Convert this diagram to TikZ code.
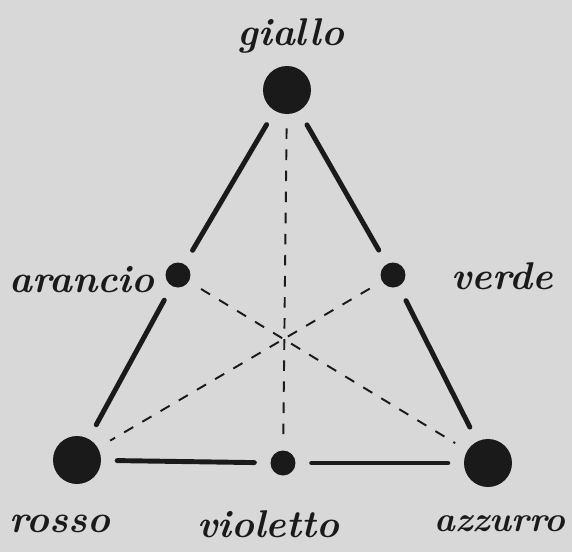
\documentclass[tikz,border=0pt]{standalone}
\usepackage{xcolor}
\usepackage{tikz}
\usetikzlibrary{positioning}
\definecolor{paper}{HTML}{D8D8D8}
\definecolor{ink}{HTML}{1A1A1A}

\begin{document}
\begin{tikzpicture}[
  x=0.02cm, y=-0.02cm,
  bigdot/.style={circle, fill=ink, inner sep=0pt, minimum size=0.96cm},
  smalldot/.style={circle, fill=ink, inner sep=0pt, minimum size=0.5cm},
  lbl/.style={font=\fontsize{22}{24}\selectfont\bfseries\itshape, text=ink, inner sep=0pt},
  side/.style={line width=2.8pt, ink, line cap=round, shorten >=9pt, shorten <=9pt},
  guide/.style={line width=1.1pt, ink, dash pattern=on 6pt off 6pt, shorten >=8pt, shorten <=8pt}
]
\fill[paper] (0,0) rectangle (572,552);
\useasboundingbox (0,0) rectangle (572,552);
% colour dots
\node[bigdot] (gi) at (287,90) {};
\node[smalldot] (ar) at (178,275) {};
\node[smalldot] (ve) at (393,275) {};
\node[bigdot] (ro) at (77,460) {};
\node[smalldot] (vi) at (283,463) {};
\node[bigdot] (az) at (488,463) {};
% names
\node[lbl] (tgi) at (291,36) {giallo};
\node[lbl] (tar) at (82,280) {arancio};
\node[lbl] (tve) at (502,276) {verde};
\node[lbl] (tro) at (60,524) {rosso};
\node[lbl] (tvi) at (268,524) {violetto};
\node[lbl, font=\fontsize{20}{22}\selectfont\bfseries\itshape] (taz) at (500,524) {azzurro};
% sides of the triangle
\draw[side] (gi) -- (ar);
\draw[side] (ar) -- (ro);
\draw[side] (gi) -- (ve);
\draw[side] (ve) -- (az);
\draw[side] (ro) -- (vi);
\draw[side] (vi) -- (az);
% complementary pairs
\draw[guide] (gi) -- (vi);
\draw[guide] (ar) -- (az);
\draw[guide] (ve) -- (ro);
\end{tikzpicture}
\end{document}
